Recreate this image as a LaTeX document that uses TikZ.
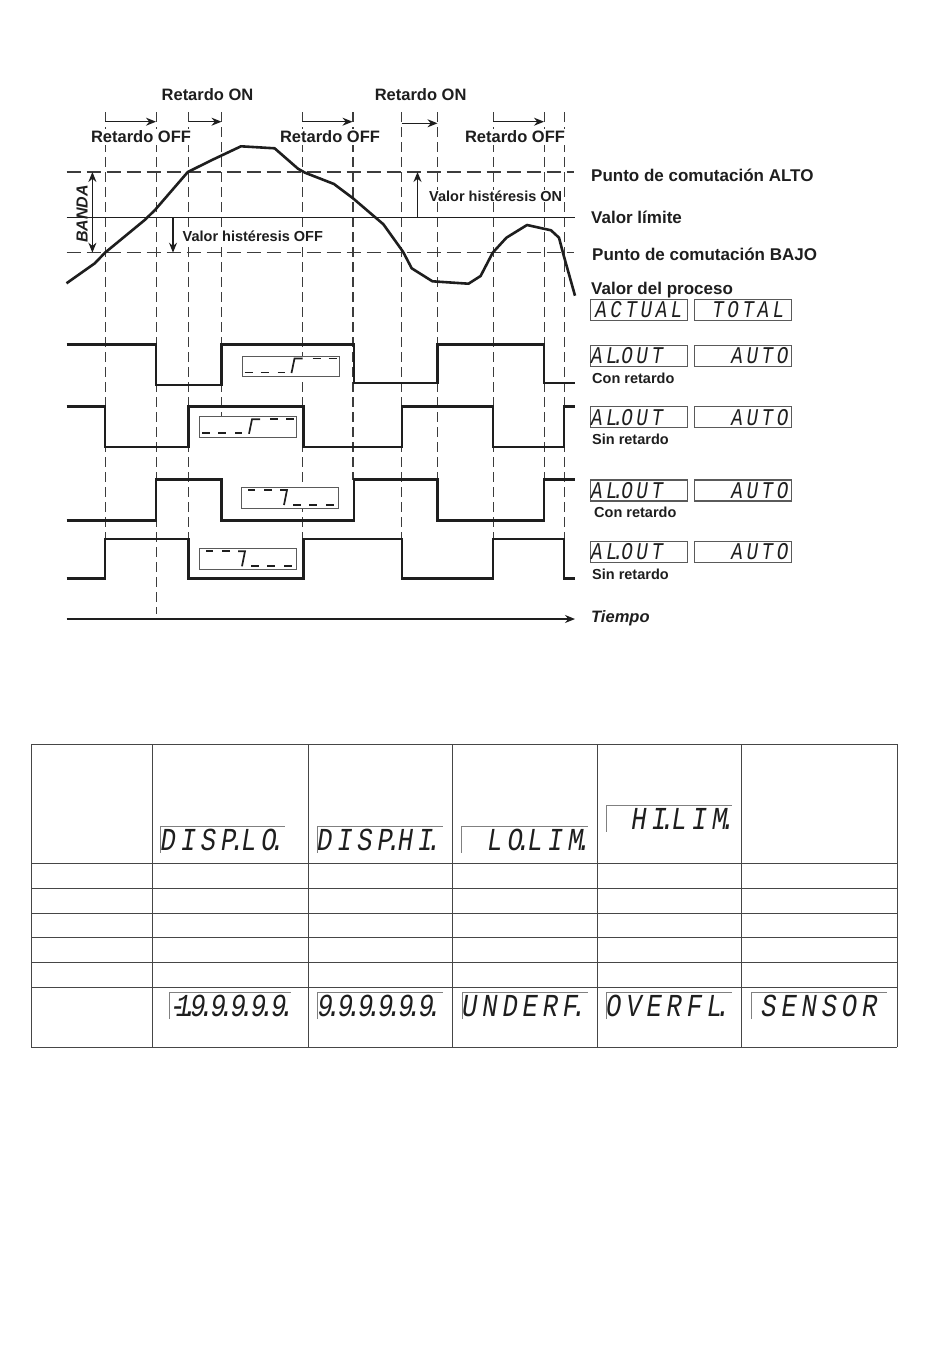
\documentclass[tikz,border=0pt]{standalone}
\usepackage{fontspec}
\setmainfont{Liberation Sans}
\newfontfamily\lcdfont[FakeStretch=0.8,LetterSpace=15]{Liberation Mono}
\usetikzlibrary{arrows.meta,positioning}
\definecolor{inkdark}{RGB}{30,30,30}
\definecolor{dashgray}{RGB}{60,60,60}
\definecolor{framegray}{RGB}{90,90,90}
\definecolor{gridgray}{RGB}{70,70,70}
\newcommand{\lcddot}{\kern-.21em.\kern-.12em}
\begin{document}
\begin{tikzpicture}[x=1pt,y=-1pt,
  lbl/.style={font=\fontsize{16.5}{18}\selectfont\bfseries, text=inkdark, inner sep=0pt},
  lblw/.style={lbl, fill=white, inner xsep=1pt, inner ysep=2pt},
  sidelbl/.style={font=\fontsize{17}{18}\selectfont\bfseries, text=inkdark, inner sep=0pt, anchor=west},
  smalllbl/.style={font=\fontsize{14.5}{16}\selectfont\bfseries, text=inkdark, inner sep=0pt, anchor=west},
  vdash/.style={draw=dashgray, line width=0.9pt, dash pattern=on 10pt off 5pt},
  hdash/.style={draw=dashgray, line width=1.4pt, dash pattern=on 14pt off 6pt},
  wave/.style={draw=inkdark, line width=2.4pt, miter limit=10},
  arr/.style={-{Stealth[length=10pt,width=8pt]}, line width=1.1pt, inkdark},
  stepbox/.style={draw=framegray, fill=white, line width=1pt, anchor=north west, inner sep=0pt},
  seg/.style={line width=1.7pt, inkdark},
  lcdbox/.style={draw=framegray, line width=1.2pt, anchor=north west, inner sep=0pt, minimum height=21pt,
    text=inkdark, font=\lcdfont\itshape\fontsize{24}{24}\selectfont},
  lcdframe/.style={anchor=north west, inner sep=0pt,
    text=inkdark, font=\lcdfont\itshape\fontsize{32}{32}\selectfont},
  frameline/.style={draw=gray, line width=0.7pt},
  gridline/.style={draw=gridgray, line width=1pt}]
\useasboundingbox (0,0) rectangle (950,1365);
% Time marks
\foreach \tx/\tend in {105/546,156/614,188.5/578,221.5/440,302/546,401.7/578,437.5/480,493/546,544/480,564/546}
  \draw[vdash] (\tx,112) -- (\tx,\tend);
\draw[vdash, line width=1.8pt] (353,112) -- (353,480);
\draw[vdash] (221.5,480) -- (221.5,520);
% Limits
\draw[hdash] (66.5,172) -- (574,172);
\draw[hdash] (66.5,252.7) -- (574,252.7);
\draw[line width=1.3pt, inkdark] (66.5,217.7) -- (575,217.7);
% Process value
\draw[wave, line width=2.6pt, line join=round] (66.5,283.3) -- (94.8,263.3) -- (105,252.7) -- (144.7,220) -- (155,210)
  -- (187.8,172) -- (212,160) -- (241,146.3) -- (274.6,148.3) -- (298,168.7) -- (305,172.7)
  -- (334,184) -- (353,198.3) -- (383.4,224.3) -- (403,251.7) -- (411.7,268.3) -- (432.4,281.3)
  -- (468.5,283.7) -- (480.6,276) -- (492.7,252.7) -- (506.4,237.7) -- (527,225) -- (551,230.3)
  -- (559,237.7) -- (563,253) -- (575,295.7);
% Delays
\foreach \ax/\bx/\ay in {105/156/121.7,188.5/221.5/121.7,302/352.5/121.7,401.7/437.5/123.3,493/544/121.7}
  \draw[arr] (\ax,\ay) -- (\bx,\ay);
\node[lbl] (on1) at (207.5,95) {Retardo ON};
\node[lbl] (on2) at (420.6,95) {Retardo ON};
\node[lblw] (off1) at (141,137) {Retardo OFF};
\node[lblw] (off2) at (330,137) {Retardo OFF};
\node[lblw] (off3) at (515,137) {Retardo OFF};
% Band and hysteresis
\coordinate (bandtop) at (92.4,172);
\coordinate (bandlow) at (92.4,252.7);
\draw[arr, {Stealth[length=10pt,width=8pt]}-{Stealth[length=10pt,width=8pt]}] (bandtop) -- (bandlow);
\node[font=\fontsize{16}{18}\selectfont\bfseries\itshape, text=inkdark, inner sep=0pt, rotate=90] (banda) at (82,214) {BANDA};
\coordinate (hoff) at (173,217.7);
\coordinate (hofflow) at (173,252.7);
\draw[arr] (hoff) -- (hofflow);
\coordinate (hon) at (417.5,217.7);
\coordinate (hontop) at (417.5,172);
\draw[arr] (hon) -- (hontop);
\node[smalllbl, fill=white, inner ysep=1pt] (hison) at (429,196) {Valor histéresis ON};
\node[smalllbl, fill=white, inner ysep=1pt] (hisoff) at (182.5,236) {Valor histéresis OFF};
% Right labels
\node[sidelbl] (alto) at (591,175) {Punto de comutación ALTO};
\node[sidelbl] (limite) at (591,217) {Valor límite};
\node[sidelbl] (bajo) at (592,254) {Punto de comutación BAJO};
\node[sidelbl] (proceso) at (591,290) {Valor del proceso};
\node[smalllbl] (con1) at (592,378) {Con retardo};
\node[smalllbl] (sin1) at (592,439) {Sin retardo};
\node[smalllbl] (con2) at (594,512) {Con retardo};
\node[smalllbl] (sin2) at (592,574) {Sin retardo};
% Outputs
\draw[wave] (66.5,344.5) -| (156,385) -| (221.5,344.5) -| (354,382.7) -| (437.5,344.5) -| (544,382.7) -- (575,382.7);
\draw[wave] (66.5,406.3) -| (105,446.7) -| (188.5,406.3) -| (303.5,446.7) -| (401.7,406.3) -| (493,446.7) -| (564,406.3) -- (575,406.3);
\draw[wave] (66.5,520.3) -| (156,479.3) -| (221.5,520.3) -| (354,479.3) -| (437.5,520.3) -| (544,479.3) -- (575,479.3);
\draw[wave] (66.5,578.3) -| (105,538.7) -| (188.5,578.3) -| (303.5,538.7) -| (401.7,578.3) -| (493,538.7) -| (564,578.3) -- (575,578.3);
% Rising boxes
\foreach \nm/\bx/\by in {risea/241.5/355.5,riseb/199/416.3}{
  \node[stepbox, minimum width=97pt, minimum height=20.3pt] (\nm) at (\bx,\by) {};
  \begin{scope}[shift={(\bx,\by)}]
    \foreach \sa/\sb in {3/11,19/27,36/43}
      \draw[seg] (\sa,17) -- (\sb,17);
    \draw[seg] (50,17.5) -- (53,3) -- (61,3);
    \foreach \sa/\sb in {71/79,87/95}
      \draw[seg] (\sa,3) -- (\sb,3);
  \end{scope}
}
% Falling boxes
\foreach \nm/\bx/\by in {falla/241/487,fallb/199/548.3}{
  \node[stepbox, minimum width=97pt, minimum height=20.6pt] (\nm) at (\bx,\by) {};
  \begin{scope}[shift={(\bx,\by)}]
    \foreach \sa/\sb in {7/14,23/31}
      \draw[seg] (\sa,3) -- (\sb,3);
    \draw[seg] (39,3) -- (46,3) -- (43,18);
    \foreach \sa/\sb in {52/60,68/76,85/93}
      \draw[seg] (\sa,18) -- (\sb,18);
  \end{scope}
}
% Panel displays
\node[lcdbox, minimum width=97.5pt, text width=97.5pt, align=center] (actual) at (589.5,298.5) {ACTUAL};
\node[lcdbox, minimum width=97.5pt, text width=97pt, align=right] (total) at (693.5,298.5) {TOTAL\kern7pt};
\foreach \nm/\dy in {ra/344.5,rb/406,rc/479.3,rd/540.7}{
  \node[lcdbox, minimum width=97.5pt, text width=97.5pt, align=left] (out\nm) at (589.5,\dy) {\kern1pt AL\lcddot OUT};
  \node[lcdbox, minimum width=97.5pt, text width=97pt, align=right] (auto\nm) at (693.5,\dy) {AUTO\kern3pt};
}
% Time axis
\coordinate (tstart) at (66.5,619);
\coordinate (tend) at (575,619);
\draw[arr, line width=1.3pt] (tstart) -- (tend);
\node[lbl, font=\fontsize{16.5}{18}\selectfont\bfseries\itshape, anchor=west] (tiempo) at (591,618) {Tiempo};
% Table grid
\foreach \cx in {31,152,308,452,597,741,897}
  \draw[gridline] (\cx,744) -- (\cx,1047);
\foreach \ry in {744,863,888,913,937,962,987,1047}
  \draw[gridline] (31,\ry) -- (897,\ry);
% Table displays
\foreach \nm/\fx/\fy/\fw/\fal/\ft in {
  dlo/160.5/826/124/left/{DISP\lcddot LO\lcddot},
  dhi/317/826/126/left/{DISP\lcddot HI\lcddot},
  llim/461/826/127/right/{LO\lcddot LIM\lcddot},
  hlim/606/805/126/right/{HI\lcddot LIM\lcddot},
  mina/169/992.3/122/right/{\llap{-\kern-.3em}1\kern-.27em.\kern-.24em 9\lcddot 9\lcddot 9\lcddot 9\lcddot 9\lcddot},
  maxa/317.5/992.3/125.5/left/{9\lcddot 9\lcddot 9\lcddot 9\lcddot 9\lcddot 9\lcddot},
  under/462/992.3/126/left/{UNDERF\lcddot},
  over/606/992.3/126/left/{OVERFL\lcddot},
  sens/751.5/992.3/135.5/center/{SENSOR}}{
  \node[lcdframe, minimum width=\fw pt, text width=\fw pt, align=\fal, minimum height=26.5pt] (\nm) at (\fx,\fy) {\ft};
  \draw[frameline] (\nm.south west) -- (\nm.north west) -- (\nm.north east);
}
\end{tikzpicture}
\end{document}
